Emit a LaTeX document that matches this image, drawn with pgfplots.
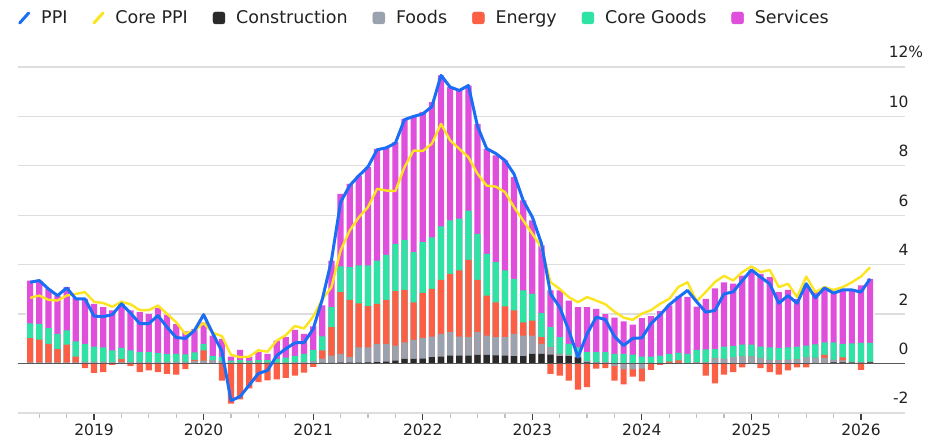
\documentclass[border=0pt]{standalone}
\usepackage{fontspec}
\setmainfont{DejaVu Sans}
\usepackage{pgfplots}
\usepackage{pgfplotstable}
\pgfplotsset{compat=1.18}

\definecolor{ppiblue}{HTML}{1A6DF5}
\definecolor{coreyel}{HTML}{FCE51E}
\definecolor{constr}{HTML}{2A2A2A}
\definecolor{foods}{HTML}{9AA2AF}
\definecolor{energy}{HTML}{FD5F44}
\definecolor{goods}{HTML}{2FE3A5}
\definecolor{services}{HTML}{E04EDC}
\definecolor{gridgray}{HTML}{DDDDDD}
\definecolor{txt}{HTML}{222222}

% m: month index, 0 = Jun 2018 ... 92 = Feb 2026
% C construction, F foods, E energy, G core goods, S services (pp contributions)
% P = PPI y/y, K = core PPI y/y
\pgfplotstableread{
m C F E G S P K
0 0.02 0.03 0.98 0.60 1.73 3.29 2.66
1 0.02 0.03 0.92 0.64 1.75 3.36 2.75
2 0.02 0.03 0.75 0.63 1.59 3.02 2.58
3 0.02 0.03 0.53 0.62 1.55 2.75 2.55
4 0.02 0.03 0.72 0.57 1.75 3.06 2.75
5 0.02 0.03 0.23 0.62 1.76 2.62 2.82
6 0.02 0.05 -0.18 0.73 1.82 2.62 2.89
7 0.02 0.05 -0.38 0.62 1.73 1.92 2.50
8 0.02 0.05 -0.35 0.59 1.62 1.90 2.45
9 0.02 0.04 -0.05 0.47 1.62 1.98 2.30
10 0.02 0.04 0.12 0.45 1.79 2.42 2.50
11 0.02 0.04 -0.10 0.47 1.62 2.04 2.40
12 0.02 0.04 -0.35 0.40 1.62 1.62 2.16
13 0.02 0.04 -0.28 0.40 1.54 1.62 2.16
14 0.02 0.04 -0.35 0.36 1.83 1.94 2.35
15 0.02 0.05 -0.42 0.32 1.58 1.47 2.01
16 0.02 0.05 -0.45 0.32 1.21 1.05 1.67
17 0.02 0.05 -0.22 0.30 0.93 1.02 1.20
18 0.02 0.08 0.05 0.30 0.95 1.34 1.34
19 0.02 0.10 0.41 0.27 0.87 1.98 1.64
20 0.02 0.12 0.00 0.17 0.82 1.22 1.25
21 0.02 0.06 -0.69 0.20 0.72 0.50 1.11
22 0.01 0.03 -1.62 0.08 0.16 -1.50 0.35
23 0.01 0.03 -1.45 0.10 0.41 -1.33 0.26
24 0.01 0.03 -1.00 0.07 0.15 -0.87 0.28
25 0.01 0.03 -0.75 0.10 0.32 -0.40 0.54
26 0.01 0.03 -0.68 0.10 0.25 -0.28 0.48
27 0.01 0.03 -0.64 0.15 0.74 0.32 0.93
28 0.01 0.03 -0.58 0.20 0.83 0.60 1.15
29 0.01 0.05 -0.49 0.25 1.05 0.84 1.52
30 0.01 0.05 -0.37 0.33 0.81 0.85 1.42
31 0.02 0.08 -0.13 0.45 0.95 1.40 1.90
32 0.03 0.17 0.33 0.57 1.25 2.60 2.60
33 0.03 0.29 1.15 0.81 1.89 4.17 3.09
34 0.04 0.35 2.50 1.04 2.94 6.53 4.57
35 0.04 0.22 2.32 1.32 3.37 7.20 5.38
36 0.04 0.62 1.78 1.53 3.63 7.60 5.92
37 0.05 0.61 1.66 1.65 3.98 7.96 6.33
38 0.06 0.74 1.62 1.75 4.52 8.65 7.07
39 0.08 0.72 1.78 1.82 4.33 8.73 7.00
40 0.12 0.61 2.20 1.91 4.12 8.92 6.98
41 0.19 0.67 2.12 2.02 4.90 9.87 7.95
42 0.19 0.77 1.52 2.03 5.49 10.00 8.62
43 0.20 0.84 1.82 2.05 5.27 10.10 8.60
44 0.26 0.83 1.93 2.09 5.47 10.40 8.90
45 0.28 0.92 2.19 2.16 6.11 11.66 9.70
46 0.32 0.95 2.36 2.16 5.40 11.19 9.03
47 0.32 0.77 2.68 2.09 5.19 11.05 8.69
48 0.32 0.75 3.13 1.99 5.06 11.25 8.35
49 0.35 0.92 2.12 1.86 4.45 9.60 7.68
50 0.35 0.78 1.62 1.69 4.25 8.70 7.20
51 0.33 0.74 1.41 1.62 4.32 8.50 7.16
52 0.32 0.75 1.24 1.46 4.45 8.22 6.94
53 0.30 0.90 0.95 1.28 4.11 7.67 6.33
54 0.30 0.83 0.54 1.29 3.64 6.60 5.79
55 0.39 0.74 0.61 1.08 2.97 5.93 5.25
56 0.39 0.41 0.27 0.97 2.74 4.86 4.70
57 0.36 0.30 -0.42 0.81 1.49 2.82 3.29
58 0.30 0.09 -0.49 0.68 1.89 2.28 3.02
59 0.30 0.05 -0.69 0.45 1.75 1.34 2.69
60 0.25 0.03 -1.05 0.38 1.62 0.26 2.48
61 0.05 0.05 -0.95 0.36 1.82 1.20 2.69
62 0.03 0.03 -0.20 0.40 1.75 1.88 2.55
63 0.02 0.03 -0.18 0.41 1.54 1.78 2.40
64 0.02 -0.10 -0.59 0.37 1.47 1.10 2.10
65 0.02 -0.24 -0.60 0.37 1.32 0.73 1.86
66 0.01 -0.24 -0.29 0.35 1.22 1.02 1.77
67 0.01 -0.20 -0.52 0.27 1.56 1.04 2.02
68 0.01 0.02 -0.26 0.25 1.64 1.62 2.16
69 0.01 0.02 -0.05 0.29 1.80 1.97 2.42
70 0.01 0.02 0.05 0.30 1.97 2.38 2.62
71 0.01 0.02 0.10 0.30 2.29 2.68 3.10
72 0.01 0.02 0.00 0.36 2.31 2.96 3.29
73 0.01 0.04 0.00 0.50 1.75 2.50 2.52
74 0.01 0.04 -0.49 0.52 2.05 2.08 2.90
75 0.01 0.20 -0.80 0.37 2.46 2.15 3.30
76 0.01 0.18 -0.45 0.50 2.60 2.82 3.55
77 0.01 0.25 -0.35 0.46 2.51 2.90 3.36
78 0.01 0.27 -0.15 0.49 2.79 3.36 3.70
79 0.01 0.27 0.00 0.49 3.00 3.79 3.93
80 0.01 0.22 -0.18 0.46 2.94 3.50 3.70
81 0.01 0.14 -0.35 0.51 2.84 3.23 3.79
82 0.01 0.12 -0.45 0.50 2.26 2.44 3.09
83 0.01 0.14 -0.28 0.51 2.32 2.75 3.23
84 0.01 0.16 -0.15 0.52 1.93 2.44 2.69
85 0.01 0.25 -0.15 0.47 2.43 3.23 3.52
86 0.01 0.22 0.00 0.55 2.11 2.66 2.89
87 0.01 0.22 0.12 0.51 2.12 3.06 3.09
88 0.05 0.10 0.00 0.71 2.03 2.85 2.98
89 0.05 0.08 0.12 0.55 2.16 2.98 3.09
90 0.04 0.03 0.00 0.75 2.16 2.98 3.29
91 0.03 0.02 -0.26 0.79 2.32 2.89 3.52
92 0.05 0.02 0.00 0.77 2.59 3.43 3.90
}\ppidata

\pgfplotsset{
  bbar/.style={ybar, bar shift=0pt, bar width=0.68, draw=none, forget plot},
  lsq/.style={legend image code/.code={\fill[#1, rounded corners=2.5pt] (0pt,-6pt) rectangle (12pt,6pt);}},
  lln/.style={legend image code/.code={\draw[#1, line width=3pt, line cap=round] (0pt,-5pt) -- (9pt,5pt);}},
}

\begin{document}
\begin{tikzpicture}
\useasboundingbox (-18pt,-30pt) rectangle (919pt,413pt);
\begin{axis}[
  scale only axis, width=887pt, height=346pt,
  xmin=-1.33, xmax=95.82, ymin=-2, ymax=12,
  axis x line*=bottom, axis y line*=right,
  x axis line style={draw=gridgray, line width=1.3pt, -},
  y axis line style={draw=none},
  ytick={-2,0,...,12},
  yticklabels={-2,0,2,4,6,8,10,12\rlap{\%}},
  ytick style={draw=none},
  ymajorgrids, grid style={gridgray, line width=1.3pt},
  yticklabel style={anchor=base east, xshift=0pt, yshift=9pt},
  xtick={7,19,31,43,55,67,79,91},
  xticklabels={2019,2020,2021,2022,2023,2024,2025,2026},
  minor xtick={1,4,...,88},
  tick align=outside,
  major tick length=7pt, minor tick length=5pt,
  major x tick style={draw=black!75, line width=1.2pt},
  minor x tick style={draw=black!25, line width=1.2pt},
  tick label style={font=\fontsize{15.5}{18}\selectfont, text=txt},
  legend columns=-1,
  legend style={draw=none, fill=none, at={(0,1)}, anchor=west, yshift=49pt,
    font=\fontsize{17.5}{20}\selectfont, text=txt, inner sep=0pt,
    nodes={inner sep=0pt},
    /tikz/every odd column/.append style={column sep=11pt},
    /tikz/every even column/.append style={column sep=25pt}},
]
\addlegendimage{lln=ppiblue}
\addlegendimage{lln=coreyel}
\addlegendimage{lsq=constr}
\addlegendimage{lsq=foods}
\addlegendimage{lsq=energy}
\addlegendimage{lsq=goods}
\addlegendimage{lsq=services}
\legend{PPI, Core PPI, Construction, Foods, Energy, Core Goods, Services}

% white backing so the grid does not show between bars
\addplot[bbar, bar width=1, fill=white] table[x=m, y expr={\thisrow{C}+max(\thisrow{F},0)+max(\thisrow{E},0)+\thisrow{G}+\thisrow{S}}]{\ppidata};
\addplot[bbar, bar width=1, fill=white] table[x=m, y expr={min(\thisrow{F},0)+min(\thisrow{E},0)}]{\ppidata};

% positive stack: construction, foods, energy, core goods, services
\addplot[bbar, fill=services] table[x=m, y expr={\thisrow{C}+max(\thisrow{F},0)+max(\thisrow{E},0)+\thisrow{G}+\thisrow{S}}]{\ppidata};
\addplot[bbar, fill=goods] table[x=m, y expr={\thisrow{C}+max(\thisrow{F},0)+max(\thisrow{E},0)+\thisrow{G}}]{\ppidata};
\addplot[bbar, fill=energy] table[x=m, y expr={\thisrow{C}+max(\thisrow{F},0)+max(\thisrow{E},0)}]{\ppidata};
\addplot[bbar, fill=foods] table[x=m, y expr={\thisrow{C}+max(\thisrow{F},0)}]{\ppidata};
\addplot[bbar, fill=constr] table[x=m, y=C]{\ppidata};
% negative stack: foods then energy below it
\addplot[bbar, fill=energy] table[x=m, y expr={min(\thisrow{F},0)+min(\thisrow{E},0)}]{\ppidata};
\addplot[bbar, fill=foods] table[x=m, y expr={min(\thisrow{F},0)}]{\ppidata};

% zero line
\addplot[draw=black!65, line width=1.6pt, forget plot] coordinates {(-1.33,0) (95.82,0)};

\addplot[coreyel, line width=2.4pt, line join=round, forget plot] table[x=m, y=K]{\ppidata};
\addplot[ppiblue, line width=3pt, line join=round, forget plot] table[x=m, y=P]{\ppidata};
\end{axis}
\end{tikzpicture}
\end{document}
